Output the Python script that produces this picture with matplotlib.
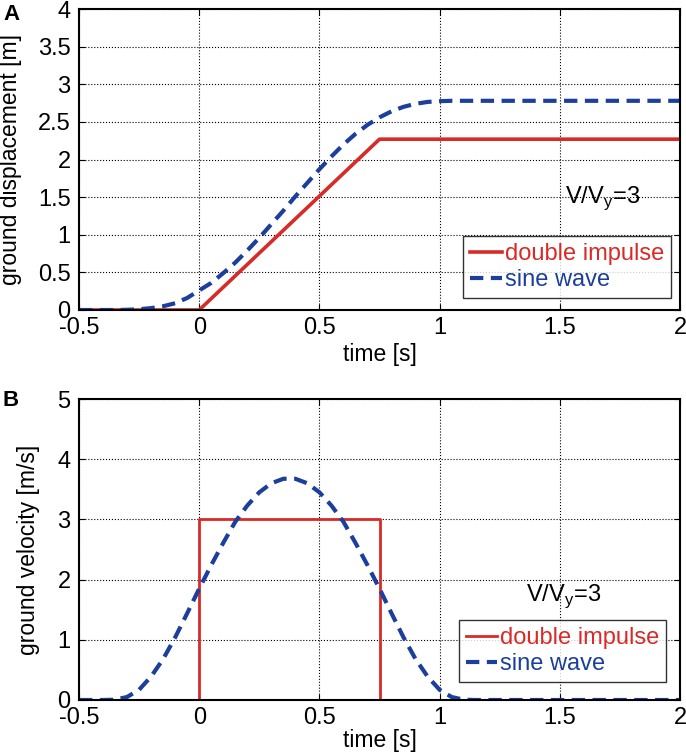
import numpy as np
import matplotlib.pyplot as plt

plt.rcParams['font.family'] = ['Liberation Sans', 'DejaVu Sans']

# displacement (panel A)
t_imp_disp = [-0.5, 0.0, 0.75, 2.0]
imp_disp = [0.0, 0.0, 2.27, 2.27]

t_sine_disp = [-0.5, -0.40, -0.35, -0.30, -0.25, -0.20, -0.15, -0.10, -0.05, 0.00,
               0.05, 0.10, 0.15, 0.20, 0.25, 0.30, 0.35, 0.40, 0.45, 0.50,
               0.55, 0.60, 0.65, 0.70, 0.75, 0.80, 0.85, 0.90, 0.95, 1.00,
               1.05, 1.10, 2.0]
sine_disp = [0.0, 0.0, 0.0, 0.003, 0.01, 0.025, 0.05, 0.09, 0.16, 0.26,
             0.36, 0.49, 0.63, 0.79, 0.96, 1.14, 1.32, 1.51, 1.69, 1.87,
             2.04, 2.20, 2.34, 2.46, 2.56, 2.64, 2.70, 2.74, 2.765, 2.775,
             2.78, 2.78, 2.78]

# velocity (panel B)
t_imp_vel = [-0.5, 0.0, 0.0, 0.75, 0.75, 2.0]
imp_vel = [0.0, 0.0, 3.0, 3.0, 0.0, 0.0]

t_sine_vel = [-0.5, -0.40, -0.35, -0.30, -0.25, -0.20, -0.15, -0.10, -0.05, 0.00,
              0.05, 0.10, 0.15, 0.20, 0.25, 0.30, 0.35, 0.40, 0.45, 0.50,
              0.55, 0.60, 0.65, 0.70, 0.75, 0.80, 0.85, 0.90, 0.95, 1.00,
              1.05, 1.10, 1.15, 2.0]
sine_vel = [0.0, 0.0, 0.005, 0.05, 0.17, 0.39, 0.68, 1.04, 1.44, 1.85,
            2.24, 2.61, 2.96, 3.23, 3.45, 3.60, 3.675, 3.675, 3.60, 3.45,
            3.23, 2.96, 2.61, 2.24, 1.85, 1.44, 1.04, 0.68, 0.39, 0.17,
            0.05, 0.005, 0.0, 0.0]

RED = '#d82a26'
BLUE = '#1c3f9c'
FS = 17

fig = plt.figure(figsize=(6.86, 7.54), dpi=100)
axA = fig.add_axes([79/686, 1 - 310/754, 601/686, 301/754])
axB = fig.add_axes([79/686, 1 - 700/754, 601/686, 301/754])


def style_axes(ax, yticks, ylabel, ylabel_x, xpad):
  ax.set_xlim(-0.5, 2)
  ax.set_xticks([-0.5, 0, 0.5, 1, 1.5, 2])
  ax.set_xticklabels(['-0.5', '0', '0.5', '1', '1.5', '2'])
  ax.set_ylim(yticks[0], yticks[-1])
  ax.set_yticks(yticks)
  ax.grid(True, color='black', linestyle=':', linewidth=0.8)
  ax.tick_params(direction='in', top=True, right=True, labelsize=FS, length=4)
  ax.tick_params(axis='y', pad=6)
  ax.tick_params(axis='x', pad=5)
  for s in ax.spines.values():
    s.set_linewidth(1.5)
  ax.set_xlabel('time [s]', fontsize=FS - 0.5, labelpad=xpad)
  ax.set_ylabel(ylabel, fontsize=FS - 0.5)
  ax.yaxis.set_label_coords(ylabel_x, 0.5)


def style_legend(leg):
  leg.get_frame().set_edgecolor('black')
  leg.get_frame().set_linewidth(1.0)
  for txt, c in zip(leg.get_texts(), [RED, BLUE]):
    txt.set_color(c)


axA.plot(t_imp_disp, imp_disp, color=RED, lw=2.6, label='double impulse')
axA.plot(t_sine_disp, sine_disp, color=BLUE, lw=3, ls=(0, (3.2, 1.8)), label='sine wave')
style_axes(axA, [0, 0.5, 1, 1.5, 2, 2.5, 3, 3.5, 4], 'ground displacement [m]', -0.095, 3)
axA.set_yticklabels(['0', '0.5', '1', '1.5', '2', '2.5', '3', '3.5', '4'])
axA.text(1.52, 1.49, r'V/V$_\mathregular{y}$=3', fontsize=FS, ha='left', va='center')
legA = axA.legend(loc='lower right', bbox_to_anchor=(0.985, 0.04), fontsize=FS,
                  frameon=True, fancybox=False, handlelength=1.35, handletextpad=0.1,
                  borderpad=0.3, labelspacing=0.15, borderaxespad=0)
style_legend(legA)

axB.plot(t_imp_vel, imp_vel, color=RED, lw=2, label='double impulse')
axB.plot(t_sine_vel, sine_vel, color=BLUE, lw=3, ls=(0, (3.2, 1.8)), label='sine wave')
style_axes(axB, [0, 1, 2, 3, 4, 5], 'ground velocity [m/s]', -0.065, 0)
axB.text(1.36, 1.72, r'V/V$_\mathregular{y}$=3', fontsize=FS, ha='left', va='center')
legB = axB.legend(loc='lower right', bbox_to_anchor=(0.977, 0.06), fontsize=FS,
                  frameon=True, fancybox=False, handlelength=1.35, handletextpad=0.1,
                  borderpad=0.3, labelspacing=0.15, borderaxespad=0)
style_legend(legB)

fig.text(3/686, 1 - 14/754, 'A', fontsize=16, fontweight='bold', va='center')
fig.text(3/686, 1 - 401/754, 'B', fontsize=16, fontweight='bold', va='center')

fig.savefig('out.png', dpi=100)
